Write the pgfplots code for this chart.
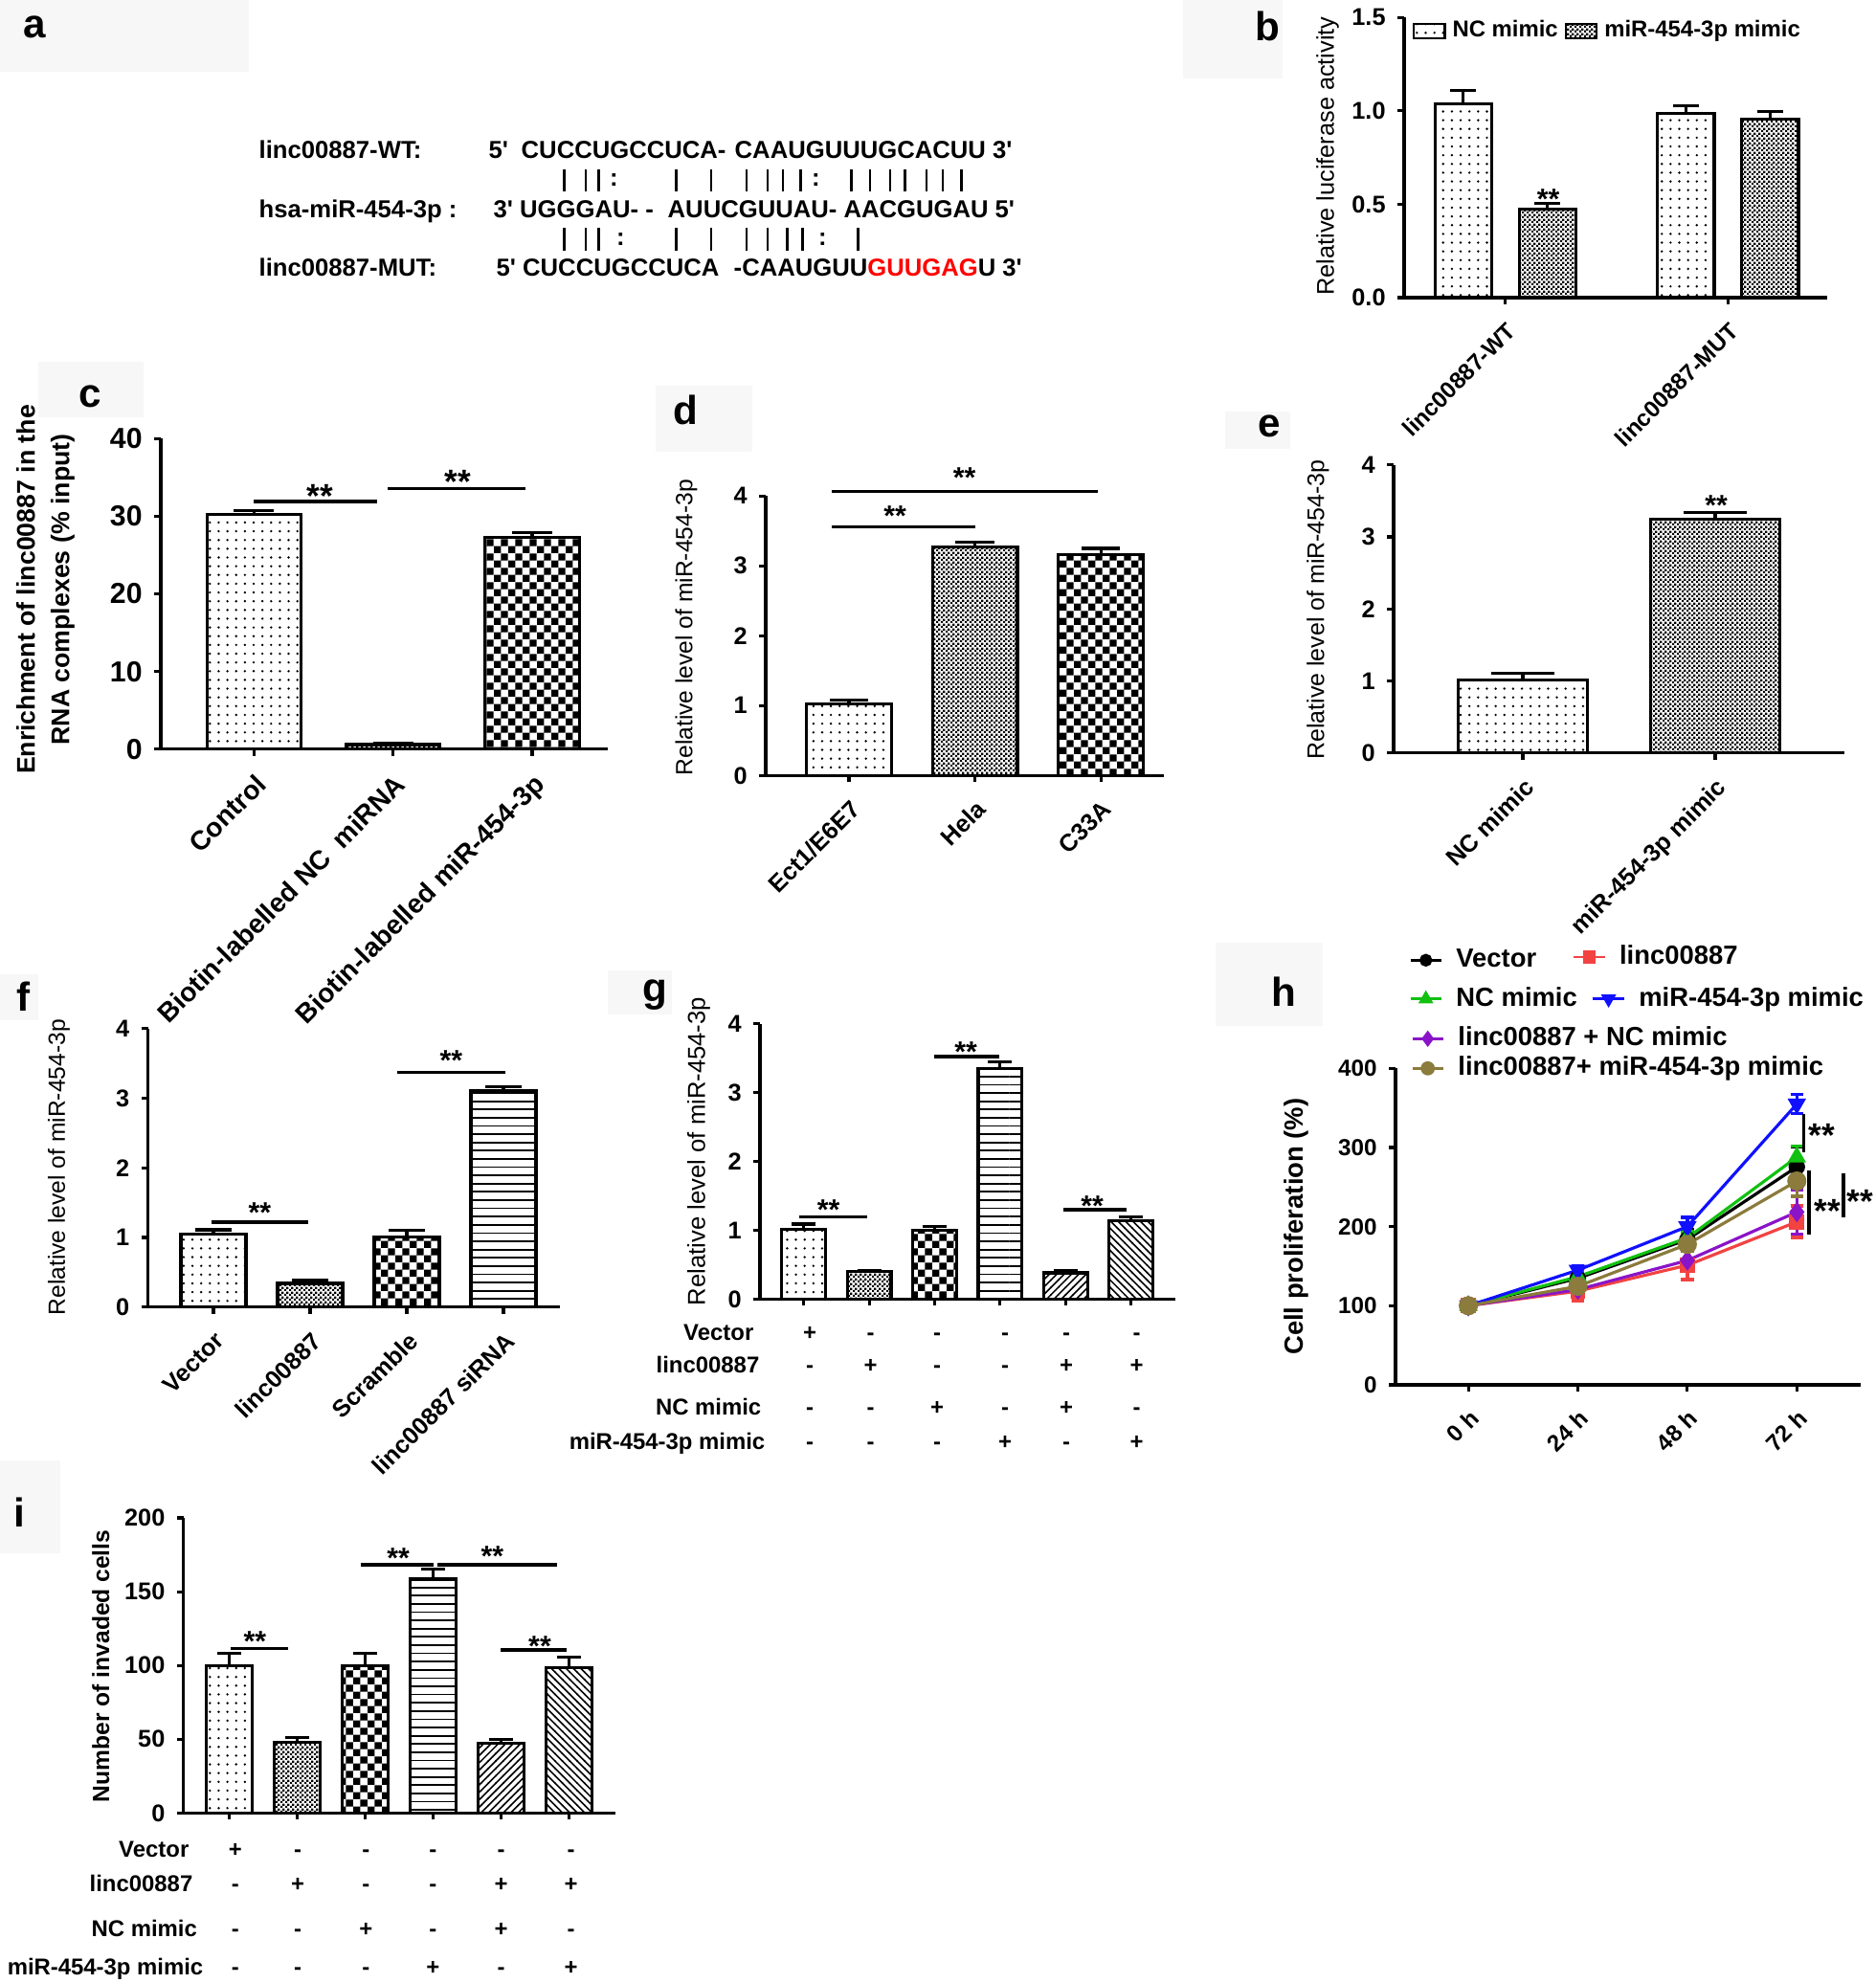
\documentclass[border=0pt]{standalone}
\usepackage{fontspec}
\setmainfont{Liberation Sans}
\usepackage{pgfplots}
\pgfplotsset{compat=1.18}
\usetikzlibrary{patterns}
\newcommand{\fs}[1]{\fontsize{#1}{#1}\selectfont}

% bar fill patterns
\pgfdeclarepatternformonly{sdots}{\pgfqpoint{-0.5pt}{-0.5pt}}{\pgfqpoint{0.5pt}{0.5pt}}{\pgfqpoint{2.6pt}{2.6pt}}{\pgfpathcircle{\pgfqpoint{0pt}{0pt}}{0.38pt}\pgfusepath{fill}}
\pgfdeclarepatternformonly{fcheck}{\pgfpointorigin}{\pgfqpoint{1.3pt}{1.3pt}}{\pgfqpoint{1.3pt}{1.3pt}}{\pgfpathrectangle{\pgfpointorigin}{\pgfqpoint{0.68pt}{0.68pt}}\pgfpathrectangle{\pgfqpoint{0.65pt}{0.65pt}}{\pgfqpoint{0.68pt}{0.68pt}}\pgfusepath{fill}}
\pgfdeclarepatternformonly{ccheck}{\pgfpointorigin}{\pgfqpoint{4.2pt}{4.2pt}}{\pgfqpoint{4.2pt}{4.2pt}}{\pgfpathrectangle{\pgfpointorigin}{\pgfqpoint{2.12pt}{2.12pt}}\pgfpathrectangle{\pgfqpoint{2.1pt}{2.1pt}}{\pgfqpoint{2.12pt}{2.12pt}}\pgfusepath{fill}}
\pgfdeclarepatternformonly{hl}{\pgfqpoint{0pt}{-0.5pt}}{\pgfqpoint{100pt}{0.5pt}}{\pgfqpoint{100pt}{2.45pt}}{\pgfsetlinewidth{0.5pt}\pgfpathmoveto{\pgfqpoint{0pt}{0pt}}\pgfpathlineto{\pgfqpoint{100.1pt}{0pt}}\pgfusepath{stroke}}
\pgfdeclarepatternformonly{nel}{\pgfqpoint{-0.5pt}{-0.5pt}}{\pgfqpoint{2.7pt}{2.7pt}}{\pgfqpoint{2.2pt}{2.2pt}}{\pgfsetlinewidth{0.45pt}\pgfpathmoveto{\pgfqpoint{-0.1pt}{-0.1pt}}\pgfpathlineto{\pgfqpoint{2.3pt}{2.3pt}}\pgfusepath{stroke}}
\pgfdeclarepatternformonly{nwl}{\pgfqpoint{-0.5pt}{-0.5pt}}{\pgfqpoint{2.7pt}{2.7pt}}{\pgfqpoint{2.2pt}{2.2pt}}{\pgfsetlinewidth{0.45pt}\pgfpathmoveto{\pgfqpoint{-0.1pt}{2.3pt}}\pgfpathlineto{\pgfqpoint{2.3pt}{-0.1pt}}\pgfusepath{stroke}}

\definecolor{cred}{HTML}{F24343}
\definecolor{cgreen}{HTML}{12C012}
\definecolor{cblue}{HTML}{1010FF}
\definecolor{cpurp}{HTML}{8A14C8}
\definecolor{colive}{HTML}{8B7B3C}

\pgfplotsset{
  /pgf/number format/assume math mode=true,
  panel/.style={scale only axis, anchor=south west, axis lines=left,
    axis line style={-, line width=0.9pt}, tick style={line width=0.9pt, black},
    tick align=outside, major tick length=0.7mm, ymin=0, clip=false,
    tick label style={font=\bfseries\fs{7.2}},
    xticklabel style={rotate=45, anchor=north east}},
  pbar/.style={ybar, bar shift=0pt, draw=black, line width=0.9pt, pattern=#1},
  ebar/.style={/pgfplots/error bars/y dir=plus, /pgfplots/error bars/y explicit,
    /pgfplots/error bars/error bar style={line width=0.9pt, black},
    /pgfplots/error bars/error mark options={rotate=90, line width=0.9pt, black, mark size=#1}},
  hln/.style={line width=0.9pt, mark options={solid},
    /pgfplots/error bars/y dir=both, /pgfplots/error bars/y explicit,
    /pgfplots/error bars/error bar style={line width=1pt},
    /pgfplots/error bars/error mark options={rotate=90, line width=1pt, mark size=1.9pt}},
}

% one legend entry of panel h, placed on its own
\newcommand{\hleg}[4]{%
\begin{axis}[hide axis, scale only axis, width=1mm, height=1mm, xmin=0, xmax=1, ymin=0, ymax=1,
  at={(#1mm,-#2mm)}, anchor=center,
  legend style={at={(0.5,0.5)}, anchor=west, draw=none, fill=none, inner sep=0pt,
    font=\bfseries\fs{7.8}, /tikz/every odd column/.append style={column sep=0.7mm}},
  legend image code/.code={\draw[##1, mark repeat=2, mark phase=2] plot coordinates {(0mm,0mm) (1.62mm,0mm) (3.25mm,0mm)};}]
\addlegendimage{#3}
\addlegendentry{#4}
\end{axis}}

\begin{document}
\begin{tikzpicture}
\useasboundingbox (0,0) rectangle (195.9mm,-207.2mm);

% faint boxes behind the panel letters
\begin{scope}[x=0.1mm, y=-0.1mm]
\fill[black!3] (0,0) rectangle (260,75);
\fill[black!3] (1236,0) rectangle (1340,82);
\fill[black!3] (40,378) rectangle (150,436);
\fill[black!3] (685,403) rectangle (786,472);
\fill[black!3] (1280,430) rectangle (1348,469);
\fill[black!3] (0,1018) rectangle (40,1066);
\fill[black!3] (635,1014) rectangle (702,1060);
\fill[black!3] (1270,985) rectangle (1382,1072);
\fill[black!3] (0,1526) rectangle (63,1623);
\end{scope}

% ---------- b ----------
\begin{axis}[panel, at={(146.7mm,-31.1mm)}, width=44.2mm, height=29.27mm,
  xmin=-0.454, xmax=1.445, ymax=1.5, bar width=0.254,
  xtick={0,1}, xticklabels={linc00887-WT,linc00887-MUT},
  ytick={0,0.5,1,1.5}, yticklabels={0.0,0.5,1.0,1.5},
  xticklabel style={font=\bfseries\fs{6.9}},
  legend columns=2,
  legend style={at={(0.019,0.9515)}, anchor=west, draw=none, fill=none, inner sep=0pt, font=\bfseries\fs{6.8}},
  legend image code/.code={\draw[#1, line width=0.6pt] (0pt,-2.1pt) rectangle (9.2pt,2.1pt);}]
\addplot[pbar=sdots, ebar=3.84pt] coordinates {(-0.189,1.038) +- (0,0.07) (0.811,0.987) +- (0,0.04)};
\addlegendentry{NC mimic}
\addplot[pbar=fcheck, ebar=3.84pt] coordinates {(0.189,0.475) +- (0,0.03) (1.189,0.957) +- (0,0.04)};
\addlegendentry{miR-454-3p mimic}
\end{axis}

% ---------- c ----------
\begin{axis}[panel, at={(16.8mm,-78.28mm)}, width=46.7mm, height=32.46mm,
  xmin=-0.67, xmax=2.544, ymax=40, bar width=0.677,
  xtick={0,1,2}, xticklabels={Control,Biotin-labelled NC~~miRNA,Biotin-labelled miR-454-3p},
  ytick={0,10,20,30,40},
  tick label style={font=\bfseries\fs{8.6}}, xticklabel style={font=\bfseries\fs{8}}]
\addplot[pbar=sdots, ebar=6pt] coordinates {(0,30.2) +- (0,0.5)};
\addplot[pbar=fcheck, ebar=6pt] coordinates {(1,0.6) +- (0,0.15)};
\addplot[pbar=ccheck, ebar=6pt] coordinates {(2,27.3) +- (0,0.55)};
\end{axis}

% ---------- d ----------
\begin{axis}[panel, at={(80.0mm,-81.03mm)}, width=41.6mm, height=29.21mm,
  xmin=-0.662, xmax=2.501, ymax=4, bar width=0.675,
  xtick={0,1,2}, xticklabels={Ect1/E6E7,Hela,C33A}, ytick={0,1,2,3,4}]
\addplot[pbar=sdots, ebar=5.76pt] coordinates {(0,1.02) +- (0,0.06)};
\addplot[pbar=fcheck, ebar=5.76pt] coordinates {(1,3.27) +- (0,0.07)};
\addplot[pbar=ccheck, ebar=5.76pt] coordinates {(2,3.16) +- (0,0.09)};
\end{axis}

% ---------- e ----------
\begin{axis}[panel, at={(145.6mm,-78.69mm)}, width=47.1mm, height=30.13mm,
  xmin=-0.672, xmax=1.672, ymax=4, bar width=0.669,
  xtick={0,1}, xticklabels={NC mimic,miR-454-3p mimic}, ytick={0,1,2,3,4}]
\addplot[pbar=sdots, ebar=9.5pt] coordinates {(0,1.01) +- (0,0.1)};
\addplot[pbar=fcheck, ebar=9.5pt] coordinates {(1,3.24) +- (0,0.095)};
\end{axis}

% ---------- f ----------
\begin{axis}[panel, at={(15.45mm,-136.57mm)}, width=43.08mm, height=29.1mm,
  xmin=-0.678, xmax=3.587, ymax=4, bar width=0.674,
  xtick={0,1,2,3}, xticklabels={Vector,linc00887,Scramble,linc00887 siRNA}, ytick={0,1,2,3,4}]
\addplot[pbar=sdots, ebar=5.35pt] coordinates {(0,1.05) +- (0,0.06)};
\addplot[pbar=fcheck, ebar=5.35pt] coordinates {(1,0.34) +- (0,0.05)};
\addplot[pbar=ccheck, ebar=5.35pt] coordinates {(2,1.01) +- (0,0.09)};
\addplot[pbar=hl, ebar=5.35pt] coordinates {(3,3.11) +- (0,0.06)};
\end{axis}

% ---------- g ----------
\begin{axis}[panel, at={(79.4mm,-135.73mm)}, width=43.4mm, height=28.76mm,
  xmin=-0.668, xmax=5.677, ymax=4, bar width=0.67,
  xtick={0,1,2,3,4,5}, xticklabels={}, ytick={0,1,2,3,4}]
\addplot[pbar=sdots, ebar=3.56pt] coordinates {(0,1.01) +- (0,0.08)};
\addplot[pbar=fcheck, ebar=3.56pt] coordinates {(1,0.40) +- (0,0.02)};
\addplot[pbar=ccheck, ebar=3.56pt] coordinates {(2,1.00) +- (0,0.055)};
\addplot[pbar=hl, ebar=3.56pt] coordinates {(3,3.35) +- (0,0.1)};
\addplot[pbar=nel, ebar=3.56pt] coordinates {(4,0.38) +- (0,0.04)};
\addplot[pbar=nwl, ebar=3.56pt] coordinates {(5,1.135) +- (0,0.06)};
\end{axis}

% ---------- h ----------
\begin{axis}[panel, at={(145.8mm,-144.7mm)}, width=48.56mm, height=33.07mm,
  xmin=-0.665, xmax=3.58, ymax=400,
  xtick={0,1,2,3}, xticklabels={0 h,24 h,48 h,72 h}, ytick={0,100,200,300,400},
  tick label style={font=\bfseries\fs{6.9}}]
\addplot[hln, black, mark=*, mark size=2pt] coordinates {(0,100) +- (0,2) (1,134.7) +- (0,5) (2,183.7) +- (0,12) (3,275.5) +- (0,25)};
\addplot[hln, cred, mark=square*, mark size=1.8pt] coordinates {(0,100) +- (0,2) (1,118.4) +- (0,12) (2,151.2) +- (0,18) (3,206) +- (0,20)};
\addplot[hln, cgreen, mark=triangle*, mark size=2.3pt] coordinates {(0,100) +- (0,2) (1,136.7) +- (0,5) (2,185.7) +- (0,8) (3,287.8) +- (0,14)};
\addplot[hln, cblue, mark=triangle*, mark size=2.3pt, mark options={rotate=180}] coordinates {(0,100) +- (0,3) (1,145) +- (0,5) (2,200) +- (0,12) (3,355) +- (0,12)};
\addplot[hln, cpurp, mark=diamond*, mark size=2.3pt] coordinates {(0,100) +- (0,2) (1,120.4) +- (0,8) (2,157.2) +- (0,12) (3,218.4) +- (0,28)};
\addplot[hln, colive, mark=*, mark size=2.4pt] coordinates {(0,100) +- (0,2) (1,124.5) +- (0,5) (2,177.6) +- (0,8) (3,257.6) +- (0,19)};
\end{axis}
\hleg{147.14}{100.33}{black, mark=*, mark size=1.5pt, line width=0.8pt}{Vector}
\hleg{164.2}{100.0}{cred, mark=square*, mark size=1.5pt, line width=0.8pt}{linc00887}
\hleg{147.14}{104.38}{cgreen, mark=triangle*, mark size=1.8pt, line width=0.8pt}{NC mimic}
\hleg{166.23}{104.38}{cblue, mark=triangle*, mark size=1.8pt, mark options={rotate=180}, line width=0.8pt}{miR-454-3p mimic}
\hleg{147.34}{108.53}{cpurp, mark=diamond*, mark size=1.8pt, line width=0.8pt}{linc00887 + NC mimic}
\hleg{147.34}{111.63}{colive, mark=*, mark size=1.7pt, line width=0.8pt}{linc00887+ miR-454-3p mimic}

% ---------- i ----------
\begin{axis}[panel, at={(19.18mm,-189.43mm)}, width=45.12mm, height=30.83mm,
  xmin=-0.672, xmax=5.683, ymax=200, bar width=0.67,
  xtick={0,1,2,3,4,5}, xticklabels={}, ytick={0,50,100,150,200}]
\addplot[pbar=sdots, ebar=3.56pt] coordinates {(0,100) +- (0,8)};
\addplot[pbar=fcheck, ebar=3.56pt] coordinates {(1,48) +- (0,3)};
\addplot[pbar=ccheck, ebar=3.56pt] coordinates {(2,100) +- (0,8)};
\addplot[pbar=hl, ebar=3.56pt] coordinates {(3,158.5) +- (0,7)};
\addplot[pbar=nel, ebar=3.56pt] coordinates {(4,47) +- (0,3)};
\addplot[pbar=nwl, ebar=3.56pt] coordinates {(5,98.5) +- (0,7)};
\end{axis}

% ---------- texts, labels and brackets ----------
\begin{scope}[x=0.1mm, y=-0.1mm]
% panel letters
\foreach \l/\px/\py in {a/36/28, b/1324/27, c/94/414, d/716/428, e/1326/445, f/25/1041, g/684/1040, h/1341/1036, i/20/1580}
  \node[font=\bfseries\fs{12}, inner sep=0pt] at (\px,\py) {\l};

% panel a: sequences
\begin{scope}[every node/.style={font=\bfseries\fs{7.3}, anchor=base west, inner sep=0pt}]
\node at (270,165) {linc00887-WT:};
\node at (510,165) {5\textquotesingle};
\node at (544,165) {CUCCUGCCUCA-};
\node at (767,165) {CAAUGUUUGCACUU 3\textquotesingle};
\node at (270,227) {hsa-miR-454-3p :};
\node at (515,227) {3\textquotesingle\ UGGGAU- -};
\node at (697,227) {AUUCGUUAU- AACGUGAU 5\textquotesingle};
\node at (270,288) {linc00887-MUT:};
\node at (518,288) {5\textquotesingle\ CUCCUGCCUCA};
\node at (766,288) {-CAAUGUU\textcolor{red}{GUUGAG}U 3\textquotesingle};
\end{scope}
\foreach \x in {589.7,611.8,625.6,706.5,743.2,779.8,802,817.8,836.5,889.7,909.1,929.8,945.7,967.9,985.2,1004.5}
  \draw[line width=0.7pt] (\x,177) -- (\x,200);
\foreach \x in {589.7,611.8,625.6,706.5,743.2,779.8,802,822.7,838.6,896.7}
  \draw[line width=0.7pt] (\x,238) -- (\x,262);
\foreach \x/\y in {641.5/188.5, 852.4/188.5, 648.4/250, 859.3/250}
  \node[font=\bfseries\fs{7.3}, inner sep=0pt] at (\x,\y) {:};

% y axis labels
\node[rotate=90, font=\fs{7.2}] at (1387,163) {Relative luciferase activity};
\node[rotate=90, font=\bfseries\fontsize{7.6}{10.2}\selectfont, align=center] at (47.5,616) {Enrichment of linc00887 in the\\RNA complexes (\% input)};
\node[rotate=90, font=\fs{7}] at (717,655.7) {Relative level of miR-454-3p};
\node[rotate=90, font=\fs{7.1}] at (1377,637) {Relative level of miR-454-3p};
\node[rotate=90, font=\fs{7}] at (61.4,1219.7) {Relative level of miR-454-3p};
\node[rotate=90, font=\fs{7.3}] at (730,1203) {Relative level of miR-454-3p};
\node[rotate=90, font=\bfseries\fs{7.8}] at (1354.5,1281.6) {Cell proliferation (\%)};
\node[rotate=90, font=\bfseries\fs{7}] at (105.4,1740.8) {Number of invaded cells};

% significance lines
\begin{scope}[line width=0.9pt]
\draw (265.3,524) -- (393.7,524);
\draw (405,510.3) -- (548.8,510.3);
\draw (869.2,550.7) -- (1019.3,550.7);
\draw (869.2,513.7) -- (1146.5,513.7);
\draw (220.6,1277) -- (322,1277);
\draw (414.7,1120.7) -- (527.9,1120.7);
\draw (834.7,1271.3) -- (905.6,1271.3);
\draw (976.2,1104) -- (1044.1,1104);
\draw (1111.2,1264) -- (1176.7,1264);
\draw (241.1,1722.7) -- (300.6,1722.7);
\draw (376.5,1635) -- (453.2,1635);
\draw (456.6,1635) -- (581.8,1635);
\draw (522.8,1724) -- (592.3,1724);
\draw (1884.7,1163.6) -- (1884.7,1204);
\draw (1890,1222.6) -- (1890,1290);
\draw (1926,1226) -- (1926,1271.5);
\end{scope}
\foreach \x/\y in {1617.7/201.7, 935/532.7, 1007.5/492.3, 1793/522, 271.3/1260.3, 471.3/1101.3, 865.7/1257.3, 1009.2/1093, 1141/1254, 266.4/1708.3, 416.1/1621.7, 514.3/1619.3, 564/1713.3}
  \node[font=\bfseries\fs{8.6}, inner sep=0pt] at (\x,\y+6.5) {**};
\foreach \x/\y in {334/511, 478/495.6, 1903/1178.7, 1909/1258, 1943.6/1248}
  \node[font=\bfseries\fs{10}, inner sep=0pt] at (\x,\y+7.5) {**};

% treatment tables under g and i
\begin{scope}[every node/.style={font=\bfseries\fs{6.8}, inner sep=0pt}]
\node[anchor=base east] at (788,1400) {Vector};
\node[anchor=base east] at (794,1434) {linc00887};
\node[anchor=base east] at (796,1478) {NC mimic};
\node[anchor=base east] at (800,1514.7) {miR-454-3p mimic};
\foreach \x/\s in {846/+,909.5/-,979/-,1050/-,1114/-,1187.5/-} \node[anchor=base] at (\x,1400) {\s};
\foreach \x/\s in {846/-,909.5/+,979/-,1050/-,1114/+,1187.5/+} \node[anchor=base] at (\x,1434) {\s};
\foreach \x/\s in {846/-,909.5/-,979/+,1050/-,1114/+,1187.5/-} \node[anchor=base] at (\x,1478) {\s};
\foreach \x/\s in {846/-,909.5/-,979/-,1050/+,1114/-,1187.5/+} \node[anchor=base] at (\x,1514.7) {\s};
\node[anchor=base east] at (198,1940) {Vector};
\node[anchor=base east] at (202,1976) {linc00887};
\node[anchor=base east] at (206.6,2023) {NC mimic};
\node[anchor=base east] at (213,2063) {miR-454-3p mimic};
\foreach \x/\s in {245.8/+,311/-,382.4/-,452.4/-,523.6/-,596.5/-} \node[anchor=base] at (\x,1940) {\s};
\foreach \x/\s in {245.8/-,311/+,382.4/-,452.4/-,523.6/+,596.5/+} \node[anchor=base] at (\x,1976) {\s};
\foreach \x/\s in {245.8/-,311/-,382.4/+,452.4/-,523.6/+,596.5/-} \node[anchor=base] at (\x,2023) {\s};
\foreach \x/\s in {245.8/-,311/-,382.4/-,452.4/+,523.6/-,596.5/+} \node[anchor=base] at (\x,2063) {\s};
\end{scope}
\end{scope}
\end{tikzpicture}
\end{document}
